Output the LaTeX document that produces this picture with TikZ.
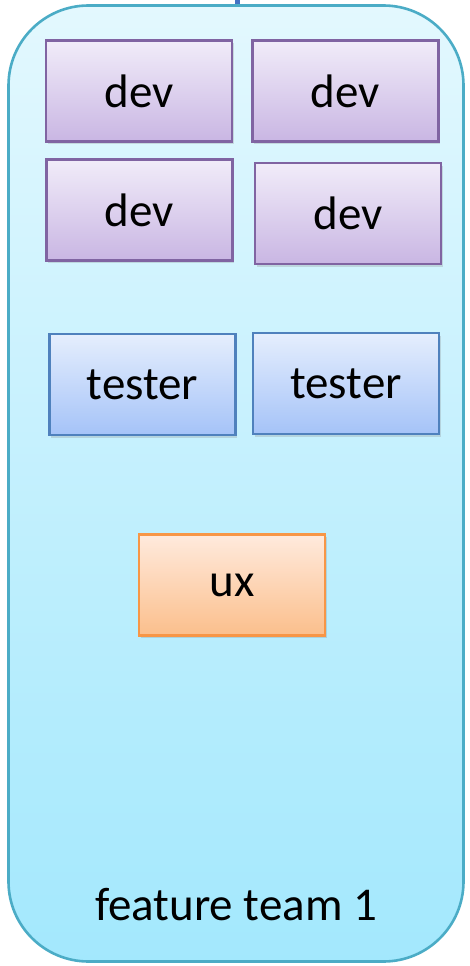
\documentclass[tikz,border=0pt]{standalone}
\usepackage{fontspec}
\setmainfont{Carlito}
\usetikzlibrary{positioning, shadows}

\definecolor{teamline}{HTML}{4BACC6}
\definecolor{teamtop}{HTML}{E3F8FE}
\definecolor{teambot}{HTML}{A3E8FD}
\definecolor{devline}{HTML}{8064A2}
\definecolor{devtop}{HTML}{F1ECF9}
\definecolor{devbot}{HTML}{C9B6E3}
\definecolor{testline}{HTML}{4F81BD}
\definecolor{testtop}{HTML}{E5EEFD}
\definecolor{testbot}{HTML}{A5C3F8}
\definecolor{uxline}{HTML}{F79646}
\definecolor{uxtop}{HTML}{FFEADD}
\definecolor{uxbot}{HTML}{FBBF8C}
\definecolor{stubline}{HTML}{4472C4}

\tikzset{
  rolebox/.style={line width=2.2pt, minimum width=186pt, minimum height=101pt, inner sep=0pt,
    font=\fontsize{47}{54}\selectfont,
    drop shadow={shadow xshift=1.5pt, shadow yshift=-2.5pt, opacity=0.25}},
  devbox/.style={rolebox, draw=devline, top color=devtop, bottom color=devbot},
  testbox/.style={rolebox, draw=testline, top color=testtop, bottom color=testbot},
  uxbox/.style={rolebox, draw=uxline, top color=uxtop, bottom color=uxbot},
}

\begin{document}
\begin{tikzpicture}[x=1pt, y=-1pt]
  \useasboundingbox (0,0) rectangle (469,966);
  % team container
  \node (team) [draw=teamline, line width=2.6pt, rounded corners=80pt, top color=teamtop, bottom color=teambot,
    minimum width=455pt, minimum height=956pt, inner sep=0pt] at (236,483.5) {};
  \coordinate (stubtop) at (237.5,0);
  \draw[stubline, line width=5pt] (stubtop) -- (team.north -| stubtop);
  % roles
  \foreach \x/\y/\n in {139/91/dev1, 345.5/91/dev2, 139.5/210/dev3, 348/213.5/dev4}{
    \node[devbox] (\n) at (\x,\y) {dev};
  }
  \foreach \x/\y/\n in {142.5/384.5/tester1, 346/383.5/tester2}{
    \node[testbox] (\n) at (\x,\y) {tester};
  }
  \node[uxbox] (ux) at (232,585) {ux};
  \node[font=\fontsize{47}{54}\selectfont] (teamlbl) at (236,905) {feature team 1};
\end{tikzpicture}
\end{document}
